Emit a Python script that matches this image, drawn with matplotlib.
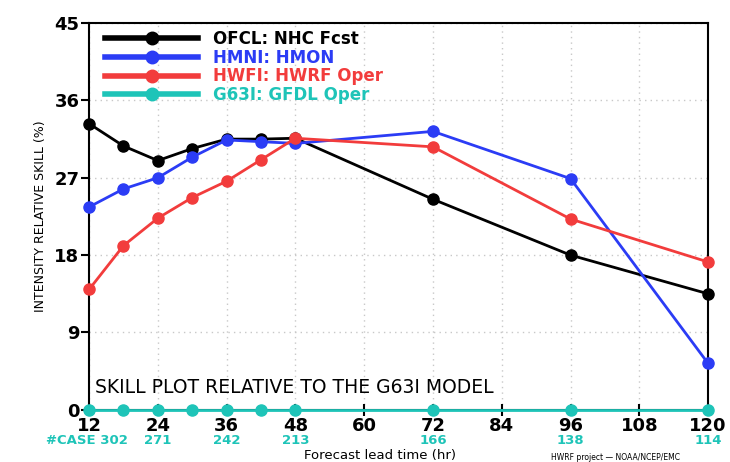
import matplotlib
matplotlib.use('Agg')
import matplotlib.pyplot as plt
from matplotlib.lines import Line2D

# forecast lead times (hr)
lead = [12, 18, 24, 30, 36, 42, 48, 72, 96, 120]

# intensity relative skill (%) vs G63I
ofcl = [33.3, 30.7, 29.0, 30.4, 31.5, 31.5, 31.6, 24.5, 18.0, 13.5]
hmni = [23.6, 25.7, 27.0, 29.4, 31.4, 31.2, 31.0, 32.4, 26.9, 5.4]
hwfi = [14.0, 19.1, 22.3, 24.7, 26.6, 29.1, 31.6, 30.6, 22.2, 17.2]
g63i = [0, 0, 0, 0, 0, 0, 0, 0, 0, 0]

# number of cases
case_hr = [12, 24, 36, 48, 72, 96, 120]
case_n = [302, 271, 242, 213, 166, 138, 114]

labels = ['OFCL: NHC Fcst', 'HMNI: HMON', 'HWFI: HWRF Oper', 'G63I: GFDL Oper']
colors = ['black', '#2b3cf5', '#f23c3c', '#1ec4b8']

plt.rcParams['font.family'] = ['DejaVu Sans']

fig = plt.figure(figsize=(7.3, 4.62), dpi=100)
ax = fig.add_axes([0.122, 0.113, 0.848, 0.837])

series = [ofcl, hmni, hwfi, g63i]
for vals, c in zip(series, colors):
    ax.plot(lead, vals, color=c, lw=2, marker='o', ms=8, clip_on=False, zorder=3)

ax.set_xlim(12, 120)
ax.set_ylim(0, 45)
ax.set_xticks(range(12, 121, 12))
ax.set_yticks(range(0, 46, 9))
ax.grid(True, color='#c8c8c8', ls=(0, (1, 3)), lw=1)
ax.tick_params(axis='x', direction='inout', length=8, width=1.5, labelsize=13, pad=1)
ax.tick_params(axis='y', direction='out', length=6, width=1.5, labelsize=13, pad=1)
for lab in ax.get_xticklabels() + ax.get_yticklabels():
    lab.set_fontweight('bold')
for s in ax.spines.values():
    s.set_linewidth(1.5)

ax.set_ylabel('INTENSITY RELATIVE SKILL (%)', fontsize=9, labelpad=5)
ax.text(13.0, 2.0, 'SKILL PLOT RELATIVE TO THE G63I MODEL', fontsize=13.5)

# case counts under the tick labels
for hr, n in zip(case_hr, case_n):
    if hr == 12:
        ax.text(4.5, -3.6, '#CASE %d' % n, color=colors[3], fontsize=9.5,
                fontweight='bold', ha='left', va='center', clip_on=False)
    else:
        ax.text(hr, -3.6, str(n), color=colors[3], fontsize=9.5,
                fontweight='bold', ha='center', va='center', clip_on=False)

fig.text(0.52, 0.0, 'Forecast lead time (hr)', fontsize=9.5,
         ha='center', va='bottom')
fig.text(0.755, 0.0, 'HWRF project \u2014 NOAA/NCEP/EMC', fontsize=5.5,
         ha='left', va='bottom')

# legend: lines with marker, coloured text
handles = [Line2D([0], [0], color=c, lw=4, marker='o', ms=9) for c in colors]
leg = ax.legend(handles, labels, loc='upper left', frameon=False, fontsize=12,
                handlelength=5.6, handletextpad=0.9, labelspacing=0.05,
                borderaxespad=0.1, borderpad=0.3, bbox_to_anchor=(0.015, 1.0))
for t, c in zip(leg.get_texts(), colors):
    t.set_color(c)
    t.set_fontweight('bold')

fig.savefig('out.png', dpi=100)
